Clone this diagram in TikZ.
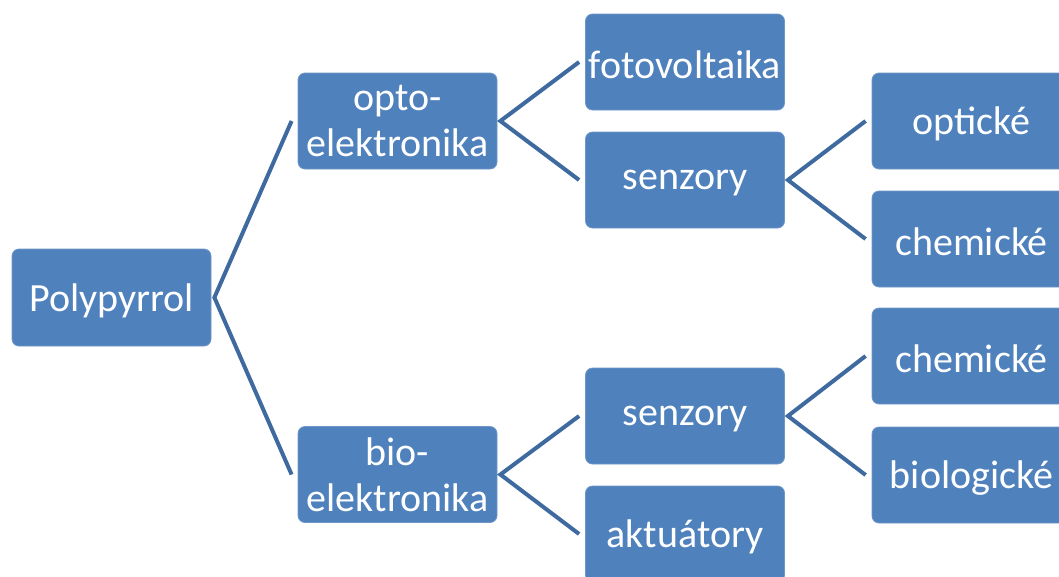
\documentclass[tikz,border=0pt]{standalone}
\usepackage{fontspec}
\setmainfont{Carlito}
\definecolor{boxfill}{HTML}{4F81BD}
\definecolor{boxline}{HTML}{6F97C9}
\definecolor{conn}{RGB}{62,106,160}
\newcommand{\lowtxt}[1]{\raisebox{-3pt}[\height][\depth]{#1}}
\begin{document}
\begin{tikzpicture}[x=1pt,y=-1pt,
  box/.style={rectangle, rounded corners=7pt, fill=boxfill, draw=boxline, line width=0.8pt,
    minimum width=199pt, minimum height=96pt, inner sep=0pt, align=center, text=white,
    font=\fontsize{40}{46}\selectfont},
  link/.style={draw=conn, line width=4pt}]
\useasboundingbox (0,0) rectangle (1059,576);
\clip (0,0) rectangle (1059,576);
\node[box, minimum height=97pt] (poly) at (111.5,297.5) {\lowtxt{Polypyrrol}};
\node[box] (opto) at (397.5,121) {opto-\\elektronika};
\node[box] (bio) at (397.5,474.5) {bio-\\elektronika};
\node[box] (foto) at (685,62) {\lowtxt{fotovoltaika}};
\node[box] (senA) at (685,180) {\lowtxt{senzory}};
\node[box] (senB) at (685,416) {\lowtxt{senzory}};
\node[box] (akt) at (685,534) {\lowtxt{aktuátory}};
\node[box] (opt) at (971.5,121) {\lowtxt{optické}};
\node[box] (chemA) at (971.5,239) {\lowtxt{chemické}};
\node[box] (chemB) at (971.5,356) {\lowtxt{chemické}};
\node[box] (biol) at (971.5,475) {\lowtxt{biologické}};
\draw[link] ([xshift=-6pt]opto.west) -- ([xshift=3pt]poly.east) -- ([xshift=-6pt]bio.west);
\draw[link] ([xshift=-6pt]foto.west) -- ([xshift=3pt]opto.east) -- ([xshift=-6pt]senA.west);
\draw[link] ([xshift=-6pt]opt.west) -- ([xshift=3pt]senA.east) -- ([xshift=-6pt]chemA.west);
\draw[link] ([xshift=-6pt]senB.west) -- ([xshift=3pt]bio.east) -- ([xshift=-6pt]akt.west);
\draw[link] ([xshift=-6pt]chemB.west) -- ([xshift=3pt]senB.east) -- ([xshift=-6pt]biol.west);
\end{tikzpicture}
\end{document}
